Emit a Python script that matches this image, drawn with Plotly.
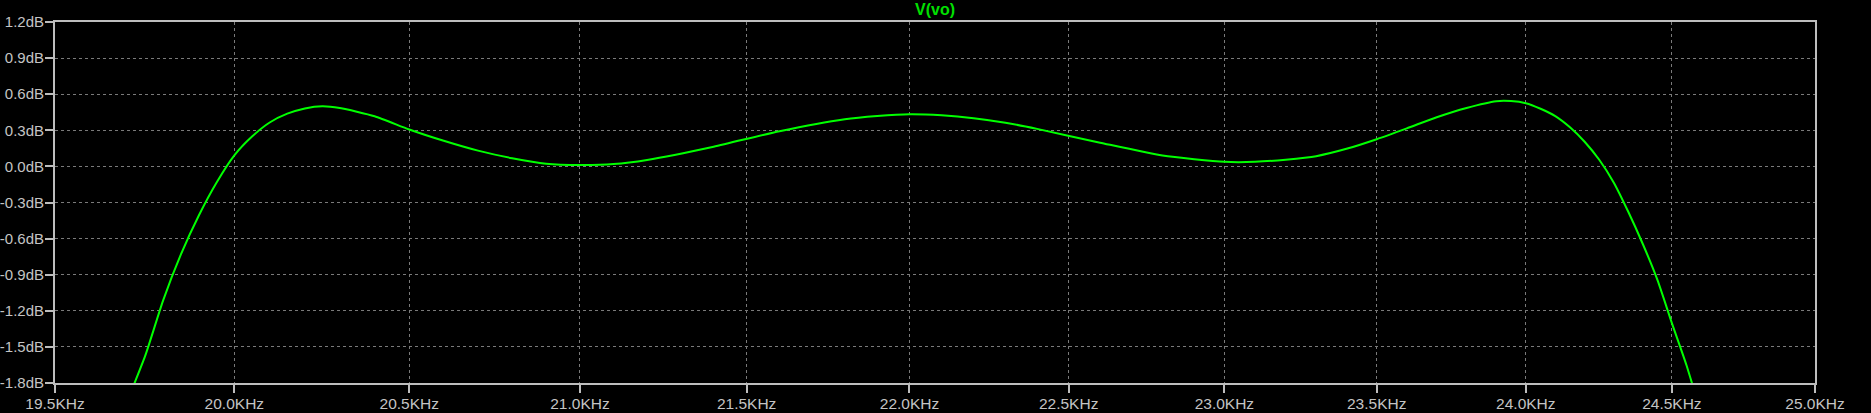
import plotly.graph_objects as go
import numpy as np

# Frequency response V(vo): frequency in Hz, magnitude in dB
freq_hz = [19700, 19750, 19800, 19850, 19900, 19950, 20000, 20050, 20100, 20150,
           20200, 20250, 20300, 20400, 20500, 20600, 20700, 20800, 20900, 21000,
           21100, 21200, 21400, 21600, 21800, 21900, 22000, 22100, 22200, 22300,
           22400, 22600, 22800, 23000, 23100, 23200, 23300, 23400, 23500, 23600,
           23700, 23800, 23900, 23950, 24000, 24050, 24100, 24150, 24200, 24250,
           24300, 24350, 24400, 24450, 24500, 24550, 24600]
mag_db = [-1.95, -1.573, -1.113, -0.729, -0.408, -0.134, 0.092, 0.248, 0.365, 0.438,
          0.482, 0.500, 0.485, 0.417, 0.307, 0.213, 0.131, 0.068, 0.022, 0.011,
          0.019, 0.054, 0.164, 0.292, 0.392, 0.419, 0.434, 0.425, 0.401, 0.363,
          0.312, 0.197, 0.090, 0.038, 0.038, 0.056, 0.085, 0.146, 0.226, 0.316,
          0.409, 0.486, 0.542, 0.543, 0.525, 0.479, 0.418, 0.325, 0.205, 0.055,
          -0.135, -0.379, -0.647, -0.943, -1.302, -1.648, -2.045]

x_tick_vals = [19500, 20000, 20500, 21000, 21500, 22000, 22500, 23000, 23500, 24000, 24500, 25000]
x_tick_text = ["19.5KHz", "20.0KHz", "20.5KHz", "21.0KHz", "21.5KHz", "22.0KHz",
               "22.5KHz", "23.0KHz", "23.5KHz", "24.0KHz", "24.5KHz", "25.0KHz"]
y_tick_vals = [1.2, 0.9, 0.6, 0.3, 0.0, -0.3, -0.6, -0.9, -1.2, -1.5, -1.8]
y_tick_text = ["1.2dB", "0.9dB", "0.6dB", "0.3dB", "0.0dB", "-0.3dB", "-0.6dB",
               "-0.9dB", "-1.2dB", "-1.5dB", "-1.8dB"]

AXIS = "#bdbdbd"
GRID = "#7a7a7a"
FAM = "Liberation Sans, Arial, sans-serif"
XFONT = dict(family=FAM, size=15.5, color="#c4c4c4")
YFONT = dict(family=FAM, size=15, color="#c4c4c4")

fig = go.Figure()
fig.add_trace(go.Scatter(x=freq_hz, y=mag_db, mode="lines",
                         line=dict(color="#00ff00", width=2, shape="spline", smoothing=0.6),
                         hoverinfo="x+y", showlegend=False))

axis_common = dict(showline=True, linecolor=AXIS, linewidth=2, mirror=True,
                   ticks="outside", ticklen=8, tickwidth=2, tickcolor=AXIS,
                   showgrid=True, gridcolor=GRID, gridwidth=1, griddash="3px,3px",
                   zeroline=False, automargin=False)

fig.update_layout(
    width=1871, height=413,
    paper_bgcolor="black", plot_bgcolor="black",
    margin=dict(l=55, r=56, t=22, b=30, autoexpand=False),
    font=dict(family=FAM, size=16, color=AXIS),
    xaxis=dict(type="log", range=[np.log10(19500), np.log10(25000)],
               tickvals=x_tick_vals, ticktext=x_tick_text, ticklabelstandoff=-3,
               tickfont=XFONT, **axis_common),
    yaxis=dict(range=[-1.8, 1.2], tickvals=y_tick_vals, ticktext=y_tick_text,
               ticklabelstandoff=-2, tickfont=YFONT, **axis_common),
    annotations=[dict(text="V(vo)", x=0.5, xref="paper", y=1, yref="paper",
                      xanchor="center", yanchor="bottom", yshift=2, showarrow=False,
                      font=dict(family=FAM, size=16, color="#00e000", weight="bold"))],
)

fig.write_html("out.html", config={"displayModeBar": False},
               post_script="document.body.style.margin='0';document.body.style.background='black';")
